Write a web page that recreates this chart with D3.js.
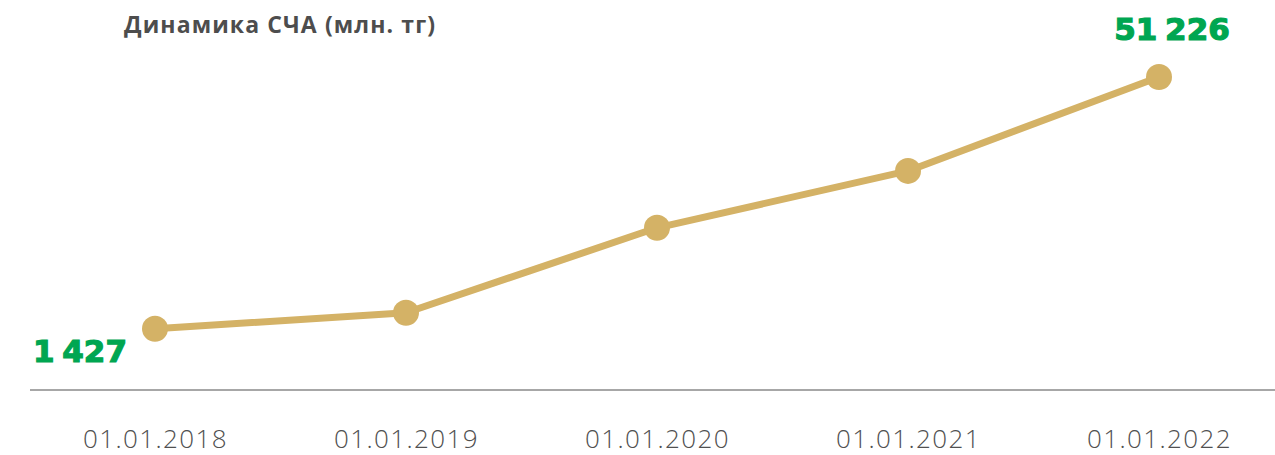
<!DOCTYPE html>
<html>
<head>
<meta charset="utf-8">
<script src="https://cdn.jsdelivr.net/npm/d3@7/dist/d3.min.js"></script>
<style>
  html, body { margin: 0; padding: 0; background: #fff; }
  svg { display: block; }
</style>
</head>
<body>
<div id="chart"></div>
<script>
  // data
  var dates = ["01.01.2018", "01.01.2019", "01.01.2020", "01.01.2021", "01.01.2022"];
  var values = [1427, 4600, 21400, 32650, 51226];
  var title = "Динамика СЧА (млн. тг)";
  var shownLabels = [0, 4]; // only first and last value are printed

  var width = 1275, height = 455;

  var svg = d3.select("#chart").append("svg")
    .attr("width", width)
    .attr("height", height);

  var x = d3.scalePoint()
    .domain(dates)
    .range([155, 1159]);

  var y = d3.scaleLinear()
    .domain([0, 51226])
    .range([336, 77]);

  // baseline
  svg.append("line")
    .attr("x1", 30).attr("x2", width)
    .attr("y1", 390).attr("y2", 390)
    .attr("stroke", "#8a8a8a")
    .attr("stroke-width", 1.5);

  // bottom axis labels
  var xAxis = svg.append("g")
    .attr("transform", "translate(0,390)")
    .call(d3.axisBottom(x).tickSize(0).tickPadding(0));
  xAxis.select(".domain").remove();
  xAxis.selectAll("text")
    .attr("dy", null)
    .attr("y", 58)
    .style("font-family", "'Open Sans', sans-serif")
    .style("font-size", "26px")
    .style("font-weight", 300)
    .style("letter-spacing", "1.4px")
    .attr("fill", "#505050");

  var pts = dates.map(function(d, i){ return {date: d, value: values[i], i: i}; });

  var line = d3.line()
    .x(function(d){ return x(d.date); })
    .y(function(d){ return y(d.value); });

  svg.append("path")
    .datum(pts)
    .attr("d", line)
    .attr("fill", "none")
    .attr("stroke", "#d4b266")
    .attr("stroke-width", 7)
    .attr("stroke-linejoin", "round");

  svg.selectAll(".dot")
    .data(pts)
    .enter().append("circle")
    .attr("class", "dot")
    .attr("cx", function(d){ return x(d.date); })
    .attr("cy", function(d){ return y(d.value); })
    .attr("r", 13)
    .attr("fill", "#d4b266");

  var fmt = function(v){ return d3.format(",")(v).replace(/,/g, " "); };

  svg.selectAll(".val")
    .data(pts.filter(function(d){ return shownLabels.indexOf(d.i) >= 0; }))
    .enter().append("text")
    .attr("class", "val")
    .attr("x", function(d){ return d.i === 0 ? x(d.date) - 28 : x(d.date) + 13; })
    .attr("y", function(d){ return d.i === 0 ? y(d.value) + 33 : y(d.value) - 37; })
    .attr("text-anchor", function(d){ return d.i === 0 ? "end" : "middle"; })
    .style("font-family", "'DejaVu Sans', sans-serif")
    .style("font-size", "31px")
    .style("font-weight", 700)
    .style("word-spacing", "-3px")
    .attr("fill", "#00a651")
    .attr("stroke", "#00a651")
    .attr("stroke-width", 1.2)
    .text(function(d){ return fmt(d.value); });

  svg.append("text")
    .attr("x", 124)
    .attr("y", 33)
    .style("font-family", "'Open Sans', sans-serif")
    .style("font-size", "23px")
    .style("font-weight", 700)
    .style("letter-spacing", "1.1px")
    .attr("fill", "#4d4d4d")
    .text(title);
</script>
</body>
</html>
